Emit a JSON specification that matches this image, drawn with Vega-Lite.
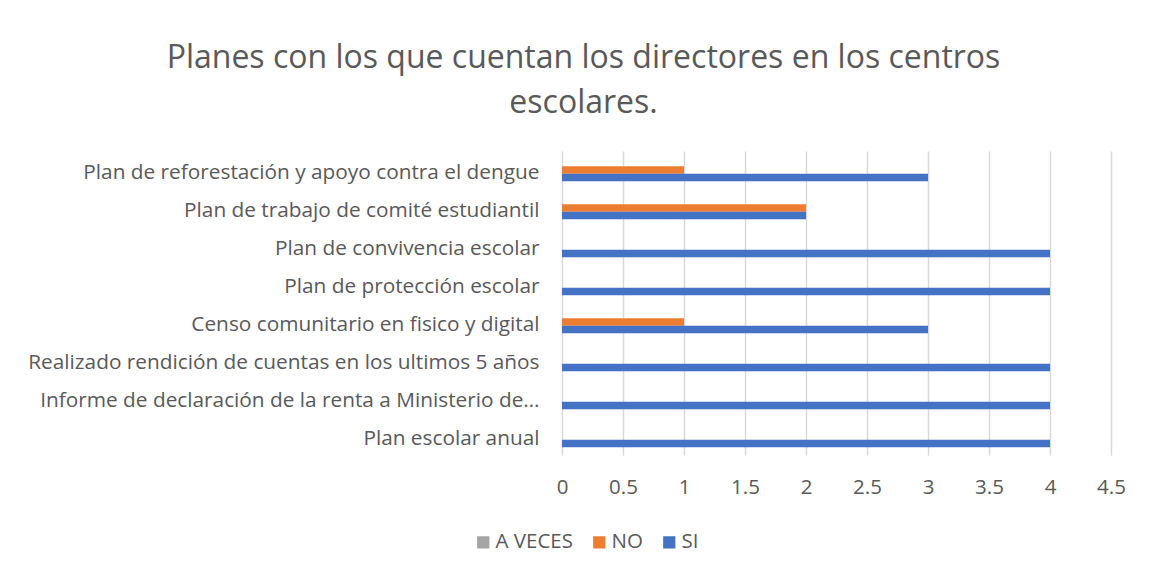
{
  "$schema": "https://vega.github.io/schema/vega-lite/v6.json",
  "autosize": "none",
  "width": 549,
  "height": 304,
  "padding": {"left": 562, "top": 151, "right": 39, "bottom": 116},
  "background": "white",
  "title": {
    "text": ["Planes con los que cuentan los directores en los centros", "escolares."],
    "font": "Open Sans",
    "fontSize": 32,
    "fontWeight": "normal",
    "color": "#595959",
    "anchor": "middle",
    "frame": "group",
    "dx": -253,
    "offset": 31,
    "lineHeight": 45
  },
  "data": {
    "values": [
      {"plan": "Plan de reforestación y apoyo contra el dengue", "serie": "A VECES", "valor": 0},
      {"plan": "Plan de reforestación y apoyo contra el dengue", "serie": "NO", "valor": 1},
      {"plan": "Plan de reforestación y apoyo contra el dengue", "serie": "SI", "valor": 3},
      {"plan": "Plan de trabajo de comité estudiantil", "serie": "A VECES", "valor": 0},
      {"plan": "Plan de trabajo de comité estudiantil", "serie": "NO", "valor": 2},
      {"plan": "Plan de trabajo de comité estudiantil", "serie": "SI", "valor": 2},
      {"plan": "Plan de convivencia escolar", "serie": "A VECES", "valor": 0},
      {"plan": "Plan de convivencia escolar", "serie": "NO", "valor": 0},
      {"plan": "Plan de convivencia escolar", "serie": "SI", "valor": 4},
      {"plan": "Plan de protección escolar", "serie": "A VECES", "valor": 0},
      {"plan": "Plan de protección escolar", "serie": "NO", "valor": 0},
      {"plan": "Plan de protección escolar", "serie": "SI", "valor": 4},
      {"plan": "Censo comunitario en fisico y digital", "serie": "A VECES", "valor": 0},
      {"plan": "Censo comunitario en fisico y digital", "serie": "NO", "valor": 1},
      {"plan": "Censo comunitario en fisico y digital", "serie": "SI", "valor": 3},
      {"plan": "Realizado rendición de cuentas en los ultimos 5 años", "serie": "A VECES", "valor": 0},
      {"plan": "Realizado rendición de cuentas en los ultimos 5 años", "serie": "NO", "valor": 0},
      {"plan": "Realizado rendición de cuentas en los ultimos 5 años", "serie": "SI", "valor": 4},
      {"plan": "Informe de declaración de la renta a Ministerio de…", "serie": "A VECES", "valor": 0},
      {"plan": "Informe de declaración de la renta a Ministerio de…", "serie": "NO", "valor": 0},
      {"plan": "Informe de declaración de la renta a Ministerio de…", "serie": "SI", "valor": 4},
      {"plan": "Plan escolar anual", "serie": "A VECES", "valor": 0},
      {"plan": "Plan escolar anual", "serie": "NO", "valor": 0},
      {"plan": "Plan escolar anual", "serie": "SI", "valor": 4}
    ]
  },
  "mark": {"type": "bar", "cornerRadius": 0},
  "encoding": {
    "y": {
      "field": "plan",
      "type": "nominal",
      "sort": null,
      "scale": {"paddingInner": 0.41, "paddingOuter": 0.205},
      "axis": {
        "title": null,
        "domain": false,
        "ticks": false,
        "grid": false,
        "labelFont": "Open Sans",
        "labelFontSize": 20.8,
        "labelColor": "#595959",
        "labelPadding": 23,
        "labelLimit": 700,
        "labelOffset": 3
      }
    },
    "yOffset": {
      "field": "serie",
      "type": "nominal",
      "sort": ["A VECES", "NO", "SI"],
      "scale": {"paddingInner": 0, "paddingOuter": 0}
    },
    "x": {
      "field": "valor",
      "type": "quantitative",
      "scale": {"domain": [0, 4.5], "nice": false},
      "axis": {
        "title": null,
        "values": [0, 0.5, 1, 1.5, 2, 2.5, 3, 3.5, 4, 4.5],
        "format": "~g",
        "domain": false,
        "ticks": false,
        "grid": true,
        "gridColor": "#D9D9D9",
        "gridWidth": 1.5,
        "labelFont": "Open Sans",
        "labelFontSize": 20.5,
        "labelColor": "#595959",
        "labelPadding": 22,
        "labelFlush": false
      }
    },
    "color": {
      "field": "serie",
      "type": "nominal",
      "scale": {"domain": ["A VECES", "NO", "SI"], "range": ["#A5A5A5", "#ED7D31", "#4472C4"]},
      "legend": {
        "title": null,
        "orient": "none",
        "direction": "horizontal",
        "legendX": -89,
        "legendY": 381,
        "symbolType": "square",
        "symbolSize": 150,
        "symbolStrokeWidth": 0,
        "symbolOpacity": 1,
        "labelFont": "Open Sans",
        "labelFontSize": 20.5,
        "labelColor": "#595959",
        "columnPadding": 16,
        "labelOffset": 2
      }
    }
  },
  "config": {"view": {"stroke": null}}
}
